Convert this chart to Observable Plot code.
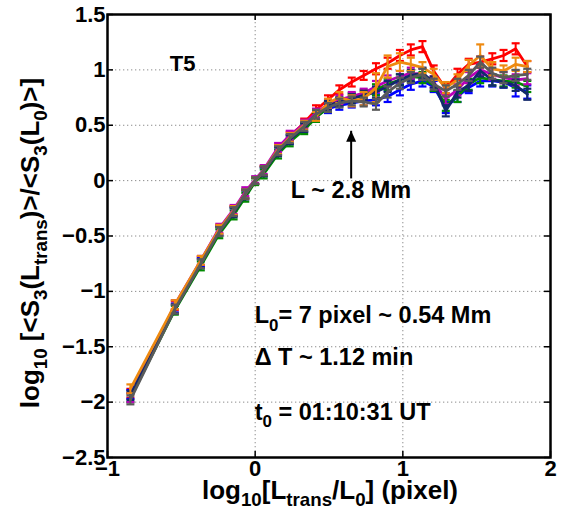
<!DOCTYPE html>
<html><head><meta charset="utf-8">
<script src="https://cdn.jsdelivr.net/npm/d3@7"></script>
<script src="https://cdn.jsdelivr.net/npm/@observablehq/plot@0.6"></script>
<style>
body{margin:0;background:#fff;}
svg text{font-family:"Liberation Sans",Arial,Helvetica,sans-serif;font-weight:bold;}
</style>
</head><body><div id="chart"></div>
<script>
// x positions: log10(L_trans / L0)
const logL = [-0.845,-0.544,-0.368,-0.243,-0.146,-0.067,0,0.058,0.155,0.234,0.332,0.412,0.493,0.570,0.654,0.735,0.818,0.897,0.980,1.054,1.133,1.209,1.291,1.370,1.446,1.524,1.606,1.682,1.764,1.843];

// series values: log10 ratio
const redVals     = [-1.92,-1.13,-0.73,-0.44,-0.27,-0.12,0,0.09,0.28,0.40,0.52,0.64, 0.73,0.82,0.89,0.95,1.01,1.06,1.13,1.18,1.21,0.99,0.83,0.96,1.05,1.07,1.10,1.13,1.19,1.03];
const blueVals    = [-1.93,-1.15,-0.74,-0.45,-0.28,-0.12,0,0.08,0.27,0.37,0.48,0.58, 0.65,0.68,0.70,0.72,0.73,0.76,0.82,0.87,0.90,0.85,0.66,0.76,0.84,0.90,0.90,0.89,0.84,0.80];
const greenVals   = [-1.96,-1.17,-0.77,-0.48,-0.31,-0.15,-0.01,0.06,0.24,0.35,0.46,0.57, 0.66,0.71,0.75,0.78,0.82,0.87,0.91,0.94,0.93,0.86,0.68,0.76,0.87,0.93,0.91,0.90,0.89,0.85];
const magentaVals = [-1.96,-1.12,-0.72,-0.43,-0.26,-0.10,0.01,0.10,0.30,0.41,0.51,0.61, 0.69,0.73,0.76,0.79,0.85,0.90,0.94,0.97,0.96,0.89,0.74,0.82,0.93,1.00,0.96,0.93,0.91,0.92];
const navyVals    = [-1.94,-1.16,-0.75,-0.46,-0.29,-0.13,0,0.08,0.26,0.37,0.48,0.59, 0.68,0.71,0.74,0.77,0.80,0.85,0.91,0.95,0.97,0.89,0.63,0.80,0.86,0.99,0.91,0.89,0.86,0.78];
const orangeVals  = [-1.88,-1.12,-0.72,-0.44,-0.27,-0.12,0,0.09,0.28,0.39,0.50,0.58, 0.70,0.75,0.72,0.74,0.84,1.03,1.07,1.05,1.02,0.96,0.84,0.91,1.04,1.13,1.01,0.99,1.05,1.03];
const grayVals    = [-1.98,-1.16,-0.75,-0.46,-0.28,-0.12,0,0.09,0.27,0.38,0.49,0.60, 0.66,0.70,0.72,0.71,0.69,0.80,0.88,0.93,0.96,0.87,0.81,0.87,0.95,1.07,0.97,0.93,0.95,0.96];

// error-bar half widths
const errCommon = [0.04,0.04,0.04,0.04,0.04,0.04,0.03,0.04,0.04,0.04,0.04,0.04,0.04,0.04,0.04,0.04,0.05,0.05,0.05,0.05,0.05,0.05,0.05,0.05,0.05,0.05,0.05,0.05,0.05,0.05];
const errOrange = [0.04,0.04,0.04,0.04,0.04,0.04,0.03,0.04,0.04,0.04,0.04,0.04,0.04,0.05,0.05,0.06,0.13,0.10,0.08,0.06,0.05,0.05,0.05,0.05,0.05,0.10,0.06,0.05,0.06,0.05];
const errBlue   = [0.04,0.04,0.04,0.04,0.04,0.04,0.03,0.04,0.04,0.04,0.04,0.04,0.04,0.04,0.04,0.04,0.05,0.05,0.05,0.05,0.05,0.05,0.05,0.05,0.05,0.05,0.05,0.05,0.08,0.06];

const seriesNames  = ["red","blue","green","magenta","navy","orange","gray"];
const seriesColors = ["#ff0000","#0000ff","#008a00","#b800b8","#13296b","#ee8a10","#5a5a5a"];
const seriesValues = [redVals,blueVals,greenVals,magentaVals,navyVals,orangeVals,grayVals];
const seriesErrs   = [errCommon,errBlue,errCommon,errCommon,errCommon,errOrange,errCommon];

const xTicks = [-1,0,1,2];
const yTicks = [-2.5,-2,-1.5,-1,-0.5,0,0.5,1,1.5];
const xGrid = [0,1];
const yGrid = [-2,-1.5,-1,-0.5,0,0.5,1];

const W = 568, H = 511, mL = 107, mR = 18, mT = 14, mB = 54;
const innerW = W - mL - mR, innerH = H - mT - mB;

const cap = {draw(ctx, size){ const r = Math.sqrt(size/Math.PI); ctx.moveTo(-r,0); ctx.lineTo(r,0); }};
const arrowHead = {draw(ctx){ ctx.moveTo(0,0); ctx.lineTo(-5,11); ctx.lineTo(5,11); ctx.closePath(); }};

const seriesMarks = [];
seriesNames.forEach((name, i) => {
  const data = logL.map((x, j) => ({x, y: seriesValues[i][j], lo: seriesValues[i][j]-seriesErrs[i][j], hi: seriesValues[i][j]+seriesErrs[i][j]}));
  const c = seriesColors[i];
  seriesMarks.push(
    Plot.ruleX(data, {x:"x", y1:"lo", y2:"hi", stroke:c, strokeWidth:2}),
    Plot.dot(data, {x:"x", y:"hi", symbol:cap, r:4, stroke:c, fill:"none", strokeWidth:2.2}),
    Plot.dot(data, {x:"x", y:"lo", symbol:cap, r:4, stroke:c, fill:"none", strokeWidth:2.2}),
    Plot.line(data, {x:"x", y:"y", stroke:c, strokeWidth:2.8})
  );
});

const arrowData = [{x: 0.65, yFrom: 0.02, yTo: 0.45}];

const chart = Plot.plot({
  width: W, height: H,
  marginLeft: mL, marginRight: mR, marginTop: mT, marginBottom: mB,
  style: {fontFamily: '"Liberation Sans",Arial,sans-serif', fontSize: "22px", fontWeight: "bold", background: "#fff", overflow: "visible"},
  x: {domain: [-1, 2]},
  y: {domain: [-2.5, 1.5]},
  marks: [
    Plot.ruleX(xGrid, {x: d => d, stroke: "#8c8c8c", strokeWidth: 1, strokeDasharray: "1.3,2.7"}),
    Plot.ruleY(yGrid, {y: d => d, stroke: "#8c8c8c", strokeWidth: 1, strokeDasharray: "1.3,2.7"}),
    ...seriesMarks,
    Plot.link(arrowData, {x1: "x", x2: "x", y1: "yFrom", y2: "yTo", stroke: "black", strokeWidth: 2}),
    Plot.dot(arrowData, {x: "x", y: "yTo", symbol: arrowHead, r: 5, fill: "black", stroke: "none"}),
    Plot.tickX(xTicks, {x: d => d, insetTop: innerH - 6, stroke: "black", strokeWidth: 1.5}),
    Plot.tickX(xTicks, {x: d => d, insetBottom: innerH - 6, stroke: "black", strokeWidth: 1.5}),
    Plot.tickY(yTicks, {y: d => d, insetRight: innerW - 6, stroke: "black", strokeWidth: 1.5}),
    Plot.tickY(yTicks, {y: d => d, insetLeft: innerW - 6, stroke: "black", strokeWidth: 1.5}),
    Plot.frame({stroke: "black", strokeWidth: 2.5}),
    Plot.axisX({ticks: xTicks, tickSize: 0, tickPadding: 3, tickFormat: d3.format(""), label: null, fill: "black"}),
    Plot.axisY({ticks: yTicks, tickSize: 0, tickPadding: 2, tickFormat: d3.format(""), label: null, fill: "black"})
  ]
});
document.getElementById("chart").appendChild(chart);

const sx = chart.scale("x"), sy = chart.scale("y");
const svg = d3.select(chart);

function rich(x, y, parts, size, opts = {}) {
  const t = svg.append("text")
    .attr("x", x).attr("y", y)
    .attr("font-size", size)
    .attr("font-weight", "bold")
    .attr("font-family", '"Liberation Sans",Arial,sans-serif')
    .attr("fill", "black")
    .attr("text-anchor", opts.anchor || "start");
  if (opts.rotate) t.attr("transform", `rotate(${opts.rotate},${x},${y})`);
  let down = false;
  const shift = size * (opts.subShift || 0.32);
  parts.forEach(([s, sub]) => {
    const ts = t.append("tspan").text(s);
    if (sub && !down) { ts.attr("dy", shift).attr("font-size", size * 0.72); down = true; }
    else if (sub) { ts.attr("font-size", size * 0.72); }
    else if (down) { ts.attr("dy", -shift); down = false; }
  });
  return t;
}

// annotations (positioned in data coordinates)
rich(sx.apply(-0.575), sy.apply(0.985), [["T5"]], 22);
rich(sx.apply(0.245), sy.apply(-0.16), [["L ~ 2.8 Mm"]], 23.5);
rich(sx.apply(0), sy.apply(-1.29), [["L"], ["0", true], ["= 7 pixel ~ 0.54 Mm"]], 23.5);
rich(sx.apply(0), sy.apply(-1.665), [["\u0394 T ~ 1.12 min"]], 23.5);
rich(sx.apply(0), sy.apply(-2.165), [["t"], ["0", true], [" = 01:10:31 UT"]], 23.5);

// axis titles
rich(330, 499, [["log"], ["10", true], ["[L"], ["trans", true], ["/L"], ["0", true], ["] (pixel)"]], 26, {anchor: "middle", subShift: 0.26});
rich(39, 243, [["log"], ["10", true], [" [<S"], ["3", true], ["(L"], ["trans", true], [")>/<S"], ["3", true], ["(L"], ["0", true], [")>]"]], 26, {anchor: "middle", rotate: -90});
</script>
</body></html>
